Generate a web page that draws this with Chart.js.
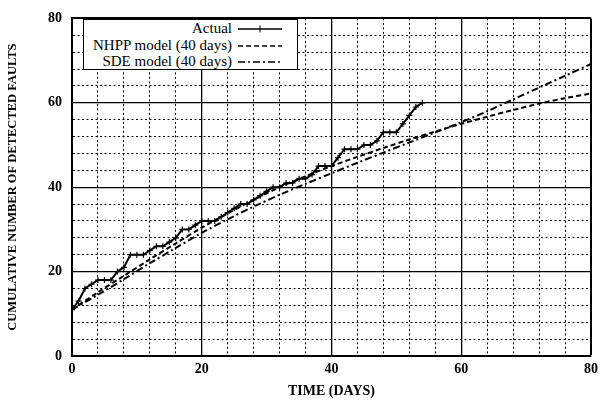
<!DOCTYPE html>
<html>
<head>
<meta charset="utf-8">
<script src="https://cdn.jsdelivr.net/npm/chart.js@4.4.0/dist/chart.umd.min.js"></script>
<style>
  body { margin: 0; background: #fff; }
  #wrap { position: relative; width: 603px; height: 403px; }
  #legendBox {
    position: absolute; left: 83px; top: 19px; width: 215px; height: 51px;
    background: #fff; border: 1.5px solid #000; box-sizing: border-box;
    font-family: 'Liberation Serif', serif; font-size: 15px; color: #000;
  }
  .row { position: absolute; left: 0; width: 206px; height: 17px; line-height: 17px; }
  .row span { position: absolute; right: 58px; white-space: nowrap; }
  .row svg { position: absolute; right: 8px; top: 2px; }
</style>
</head>
<body>
<div id="wrap">
  <canvas id="chart" width="603" height="403"></canvas>
  <div id="legendBox"></div>
</div>
<script>
// Data
const actualDays = [
  0, 1, 2, 3, 4, 5, 6, 7, 8, 9, 10, 11, 12, 13, 14, 15, 16, 17, 18, 19,
  20, 21, 22, 23, 24, 25, 26, 27, 28, 29, 30, 31, 32, 33, 34, 35, 36, 37, 38, 39,
  40, 41, 42, 43, 44, 45, 46, 47, 48, 49, 50, 51, 52, 53, 54
];
const actualFaults = [
  11, 13, 16, 17, 18, 18, 18, 20, 21, 24, 24, 24, 25, 26, 26, 27, 28, 30, 30, 31,
  32, 32, 32, 33, 34, 35, 36, 36, 37, 38, 39, 40, 40, 41, 41, 42, 42, 43, 45, 45,
  45, 47, 49, 49, 49, 50, 50, 51, 53, 53, 53, 55, 57, 59, 60
];
const modelDays = [0, 4, 8, 12, 16, 20, 24, 28, 32, 36, 40, 44, 48, 52, 56, 60, 64, 68, 72, 76, 80];
const nhppValues = [11, 15.1, 19, 22.9, 26.7, 30.4, 33.8, 37, 40, 42.6, 45, 47.2, 49.3, 51.3, 53.2, 55, 56.7, 58.3, 59.8, 61.1, 62.2];
const sdeValues = [11, 14.5, 18.2, 22, 25.6, 29.2, 32.4, 35.4, 38.2, 40.8, 43.3, 45.8, 48.2, 50.6, 53, 55.4, 58, 60.8, 63.6, 66.4, 69.2];
const seriesNames = ['Actual', 'NHPP model (40 days)', 'SDE model (40 days)'];
const seriesDash = [[], [5, 3], [7, 3, 2, 3]];

const toPoints = (xs, ys) => xs.map((x, i) => ({ x, y: ys[i] }));

const serif = 'Liberation Serif';
const minorDash = c => (c.tick && c.tick.value % 20 !== 0) ? [2, 2.5] : [];
const gridWidth = c => {
  if (!c.tick) return 1;
  if (c.tick.value === 80) return 2;
  return c.tick.value % 20 === 0 ? 1.3 : 1;
};

new Chart(document.getElementById('chart'), {
  type: 'line',
  data: {
    datasets: [
      {
        label: seriesNames[0],
        data: toPoints(actualDays, actualFaults),
        borderColor: '#000',
        borderWidth: 2,
        pointStyle: 'cross',
        pointRadius: 3,
        pointBorderWidth: 1.2,
        pointBorderColor: '#000',
        tension: 0
      },
      {
        label: seriesNames[1],
        data: toPoints(modelDays, nhppValues),
        borderColor: '#000',
        borderWidth: 2,
        borderDash: seriesDash[1],
        pointRadius: 0,
        tension: 0.3
      },
      {
        label: seriesNames[2],
        data: toPoints(modelDays, sdeValues),
        borderColor: '#000',
        borderWidth: 2,
        borderDash: seriesDash[2],
        pointRadius: 0,
        tension: 0.3
      }
    ]
  },
  options: {
    responsive: false,
    animation: false,
    layout: { padding: { left: 0, right: 9, top: 15, bottom: 0 } },
    plugins: {
      legend: { display: false },
      tooltip: { enabled: false }
    },
    scales: {
      x: {
        type: 'linear',
        min: 0,
        max: 80,
        afterFit: s => { s.height = 47; },
        ticks: {
          stepSize: 4,
          autoSkip: false,
          maxRotation: 0,
          padding: 5,
          color: '#000',
          font: { family: serif, size: 14, weight: 'bold' },
          callback: v => (v % 20 === 0 ? v : '')
        },
        grid: { color: '#000', lineWidth: gridWidth, drawTicks: false },
        border: { display: true, color: '#000', width: 2, dash: minorDash },
        title: {
          display: true,
          text: 'TIME (DAYS)',
          color: '#000',
          font: { family: serif, size: 14, weight: 'bold' },
          padding: { top: 0, bottom: 3 }
        }
      },
      y: {
        type: 'linear',
        min: 0,
        max: 80,
        afterFit: s => { s.width = 72; },
        ticks: {
          stepSize: 4,
          autoSkip: false,
          padding: 10,
          color: '#000',
          font: { family: serif, size: 14, weight: 'bold' },
          callback: v => (v % 20 === 0 ? v : '')
        },
        grid: { color: '#000', lineWidth: gridWidth, drawTicks: false },
        border: { display: true, color: '#000', width: 2, dash: minorDash },
        title: {
          display: true,
          text: 'CUMULATIVE NUMBER OF DETECTED FAULTS',
          color: '#000',
          font: { family: serif, size: 12.5, weight: 'bold' },
          padding: { top: 5, bottom: 0 }
        }
      }
    }
  }
});

// Legend: text on the left, line sample on the right, as in the reference
const legendBox = document.getElementById('legendBox');
seriesNames.forEach((name, i) => {
  const row = document.createElement('div');
  row.className = 'row';
  row.style.top = (0 + i * 16.5) + 'px';
  const dash = seriesDash[i].length ? `stroke-dasharray="${seriesDash[i].join(' ')}"` : '';
  const mark = i === 0 ? '<line x1="22" y1="3.5" x2="22" y2="10.5" stroke="#000" stroke-width="1"/>' : '';
  row.innerHTML = `<span>${name}</span>` +
    `<svg width="44" height="14"><line x1="0" y1="7" x2="44" y2="7" stroke="#000" stroke-width="1.5" ${dash}/>${mark}</svg>`;
  legendBox.appendChild(row);
});
</script>
</body>
</html>
